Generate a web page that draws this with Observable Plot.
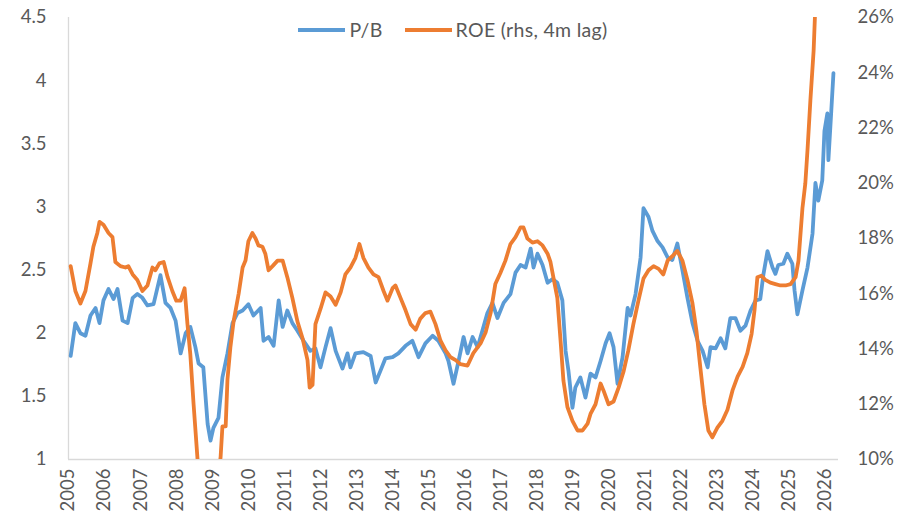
<!DOCTYPE html>
<html><head><meta charset="utf-8">
<script src="https://cdn.jsdelivr.net/npm/d3@7"></script>
<script src="https://cdn.jsdelivr.net/npm/@observablehq/plot@0.6"></script>
<style>
body{margin:0;background:#fff;}
#wrap{position:relative;width:913px;height:521px;font-family:Lato,"Open Sans",sans-serif;}
#legend{position:absolute;top:18px;left:68px;width:770px;display:flex;justify-content:center;align-items:center;font-size:19.5px;color:#595959;letter-spacing:0.3px;}
.item{display:flex;align-items:center;margin:0 11px;}
.sw{width:47px;height:4px;margin-right:4px;}
</style></head>
<body><div id="wrap"><div id="legend"></div></div>
<script>
const seriesNames = ["P/B", "ROE (rhs, 4m lag)"];
const seriesColors = ["#5B9BD5", "#ED7D31"];
const years = [2005,2006,2007,2008,2009,2010,2011,2012,2013,2014,2015,2016,2017,2018,2019,2020,2021,2022,2023,2024,2025,2026];
const leftTicks = [1,1.5,2,2.5,3,3.5,4,4.5];
const rightTicks = [10,12,14,16,18,20,22,24,26];

const pbDates = [2005.06,2005.19,2005.33,2005.47,2005.61,2005.75,2005.86,2005.97,2006.11,2006.25,2006.36,2006.50,2006.64,2006.78,2006.91,2007.05,2007.19,2007.36,2007.55,2007.69,2007.83,2007.97,2008.11,2008.25,2008.38,2008.52,2008.61,2008.74,2008.86,2008.94,2009.02,2009.16,2009.27,2009.41,2009.55,2009.69,2009.83,2009.99,2010.13,2010.33,2010.41,2010.55,2010.69,2010.83,2010.94,2011.07,2011.21,2011.35,2011.52,2011.71,2011.85,2011.99,2012.13,2012.27,2012.41,2012.60,2012.74,2012.82,2012.96,2013.18,2013.38,2013.52,2013.65,2013.79,2013.99,2014.15,2014.35,2014.54,2014.71,2014.90,2015.10,2015.26,2015.46,2015.54,2015.68,2015.82,2015.96,2016.07,2016.21,2016.35,2016.48,2016.62,2016.76,2016.90,2017.07,2017.26,2017.40,2017.54,2017.68,2017.82,2017.90,2018.01,2018.15,2018.29,2018.43,2018.56,2018.70,2018.79,2018.87,2018.98,2019.06,2019.20,2019.34,2019.48,2019.62,2019.76,2019.90,2020.01,2020.12,2020.23,2020.37,2020.51,2020.59,2020.73,2020.87,2020.95,2021.09,2021.20,2021.34,2021.48,2021.62,2021.75,2021.89,2022.03,2022.17,2022.31,2022.45,2022.59,2022.73,2022.81,2022.95,2023.09,2023.22,2023.36,2023.50,2023.64,2023.78,2023.92,2024.06,2024.19,2024.28,2024.39,2024.53,2024.61,2024.69,2024.83,2024.94,2025.08,2025.14,2025.22,2025.36,2025.50,2025.64,2025.72,2025.80,2025.91,2025.97,2026.05,2026.08,2026.16,2026.22];
const pbValues = [1.82,2.08,2.00,1.98,2.14,2.20,2.08,2.26,2.35,2.27,2.35,2.10,2.08,2.28,2.31,2.28,2.22,2.23,2.46,2.24,2.20,2.10,1.84,2.00,2.05,1.89,1.76,1.73,1.28,1.15,1.25,1.33,1.65,1.84,2.08,2.16,2.18,2.23,2.14,2.20,1.94,1.97,1.90,2.26,2.05,2.18,2.08,2.02,1.94,1.86,1.88,1.73,1.89,2.04,1.86,1.72,1.84,1.73,1.84,1.85,1.82,1.61,1.70,1.80,1.81,1.84,1.90,1.94,1.81,1.92,1.98,1.94,1.84,1.78,1.60,1.78,1.97,1.84,1.97,1.89,2.02,2.16,2.24,2.12,2.24,2.31,2.48,2.54,2.52,2.67,2.52,2.63,2.54,2.40,2.43,2.40,2.26,1.86,1.70,1.41,1.57,1.65,1.49,1.68,1.65,1.78,1.92,2.00,1.89,1.60,1.81,2.20,2.14,2.31,2.60,2.99,2.92,2.81,2.73,2.68,2.60,2.58,2.71,2.50,2.28,2.08,1.94,1.86,1.73,1.89,1.88,1.96,1.88,2.12,2.12,2.02,2.06,2.18,2.26,2.27,2.47,2.65,2.52,2.47,2.54,2.55,2.63,2.55,2.34,2.15,2.34,2.52,2.79,3.19,3.05,3.21,3.60,3.74,3.37,3.76,4.06];

const roeDates = [2005.06,2005.19,2005.33,2005.47,2005.61,2005.69,2005.80,2005.86,2005.97,2006.11,2006.22,2006.30,2006.44,2006.58,2006.66,2006.78,2006.91,2007.05,2007.19,2007.33,2007.41,2007.52,2007.64,2007.75,2007.88,2007.99,2008.11,2008.22,2008.30,2008.38,2008.47,2008.58,2008.74,2009.05,2009.22,2009.27,2009.36,2009.41,2009.49,2009.58,2009.72,2009.83,2009.91,2009.99,2010.10,2010.19,2010.27,2010.38,2010.46,2010.55,2010.66,2010.80,2010.94,2011.07,2011.21,2011.35,2011.49,2011.63,2011.69,2011.77,2011.85,2011.99,2012.13,2012.27,2012.41,2012.55,2012.68,2012.82,2012.96,2013.07,2013.18,2013.32,2013.46,2013.60,2013.74,2013.85,2013.99,2014.07,2014.21,2014.35,2014.49,2014.63,2014.76,2014.90,2015.04,2015.18,2015.32,2015.46,2015.60,2015.74,2015.87,2016.07,2016.23,2016.43,2016.57,2016.71,2016.84,2016.98,2017.12,2017.26,2017.40,2017.54,2017.62,2017.73,2017.87,2018.01,2018.15,2018.29,2018.37,2018.45,2018.56,2018.65,2018.73,2018.84,2018.98,2019.12,2019.26,2019.40,2019.48,2019.62,2019.76,2019.84,2019.98,2020.12,2020.26,2020.40,2020.53,2020.67,2020.81,2020.95,2021.09,2021.23,2021.37,2021.50,2021.62,2021.78,2021.89,2022.03,2022.17,2022.31,2022.42,2022.53,2022.64,2022.75,2022.86,2023.00,2023.14,2023.28,2023.42,2023.56,2023.70,2023.83,2023.95,2024.03,2024.11,2024.22,2024.33,2024.47,2024.61,2024.75,2024.89,2025.03,2025.17,2025.25,2025.36,2025.44,2025.50,2025.58,2025.67,2025.72,2025.78];
const roeValues = [17.0,16.1,15.65,16.1,17.1,17.7,18.2,18.6,18.5,18.2,18.05,17.15,17.0,16.95,17.0,16.7,16.5,16.1,16.3,16.95,16.85,17.1,17.15,16.6,16.1,15.75,15.75,16.2,14.9,13.8,12.0,10.0,8.0,8.0,10.1,11.2,11.2,12.9,14.05,15.0,16.0,16.95,17.2,17.9,18.2,18.0,17.75,17.7,17.45,16.85,17.0,17.2,17.2,16.6,15.85,15.0,14.4,13.6,12.6,12.7,14.9,15.45,16.05,15.9,15.6,16.05,16.7,16.95,17.3,17.8,17.3,16.95,16.7,16.6,16.1,15.75,16.2,16.3,15.85,15.4,14.9,14.7,15.1,15.3,15.35,14.9,14.3,13.95,13.7,13.6,13.45,13.4,13.85,14.2,14.6,15.3,16.35,16.75,17.2,17.8,18.05,18.4,18.4,18.0,17.85,17.9,17.75,17.45,17.15,16.6,15.85,14.3,12.85,11.9,11.4,11.05,11.05,11.3,11.65,12.0,12.75,12.5,12.0,12.1,12.6,13.2,13.95,14.9,15.75,16.55,16.85,17.0,16.9,16.7,17.2,17.4,17.55,17.2,16.5,15.65,14.65,13.3,12.0,11.05,10.8,11.15,11.4,11.8,12.5,13.0,13.35,13.85,14.55,15.4,16.6,16.65,16.5,16.4,16.35,16.3,16.3,16.35,16.6,17.2,19.1,20.0,21.2,23.0,24.8,26.5,28.0];

const leftMin = leftTicks[0], leftMax = leftTicks[leftTicks.length - 1];
const rMin = rightTicks[0], rMax = rightTicks[rightTicks.length - 1];
const toLeft = r => leftMin + (r - rMin) * (leftMax - leftMin) / (rMax - rMin);
const fromLeft = v => rMin + (v - leftMin) * (rMax - rMin) / (leftMax - leftMin);

const pb = pbDates.map((t, i) => ({t, v: pbValues[i]}));
const roe = roeDates.map((t, i) => ({t, v: toLeft(roeValues[i])}));

const font = 'Lato, "Open Sans", sans-serif';
const chart = Plot.plot({
  width: 913, height: 521,
  marginLeft: 68, marginRight: 75, marginTop: 17, marginBottom: 62,
  style: {fontFamily: font, fontSize: "18.5px", color: "#595959", background: "white"},
  x: {domain: [years[0], 2026.36]},
  y: {domain: [leftMin, leftMax]},
  marks: [
    Plot.ruleY([leftMin], {stroke: "#d9d9d9", strokeWidth: 1.3}),
    Plot.ruleX([years[0]], {stroke: "#d9d9d9", strokeWidth: 1.3}),
    Plot.axisX(years, {tickSize: 0, tickPadding: 9, tickRotate: -90, tickFormat: d => String(d), label: null, fill: "#595959"}),
    Plot.axisY(leftTicks, {anchor: "left", tickSize: 0, tickPadding: 22, tickFormat: d => String(d), label: null, fill: "#595959"}),
    Plot.axisY(rightTicks.map(toLeft), {anchor: "right", tickSize: 0, tickPadding: 19, tickFormat: d => Math.round(fromLeft(d)) + "%", label: null, fill: "#595959"}),
    Plot.line(pb, {x: "t", y: "v", stroke: seriesColors[0], strokeWidth: 3.8, clip: true}),
    Plot.line(roe, {x: "t", y: "v", stroke: seriesColors[1], strokeWidth: 3.8, clip: true})
  ]
});
document.getElementById("wrap").appendChild(chart);

const legend = document.getElementById("legend");
seriesNames.forEach((name, i) => {
  const item = document.createElement("div");
  item.className = "item";
  const sw = document.createElement("span");
  sw.className = "sw";
  sw.style.background = seriesColors[i];
  const tx = document.createElement("span");
  tx.textContent = name;
  item.appendChild(sw); item.appendChild(tx);
  legend.appendChild(item);
});
</script></body></html>
